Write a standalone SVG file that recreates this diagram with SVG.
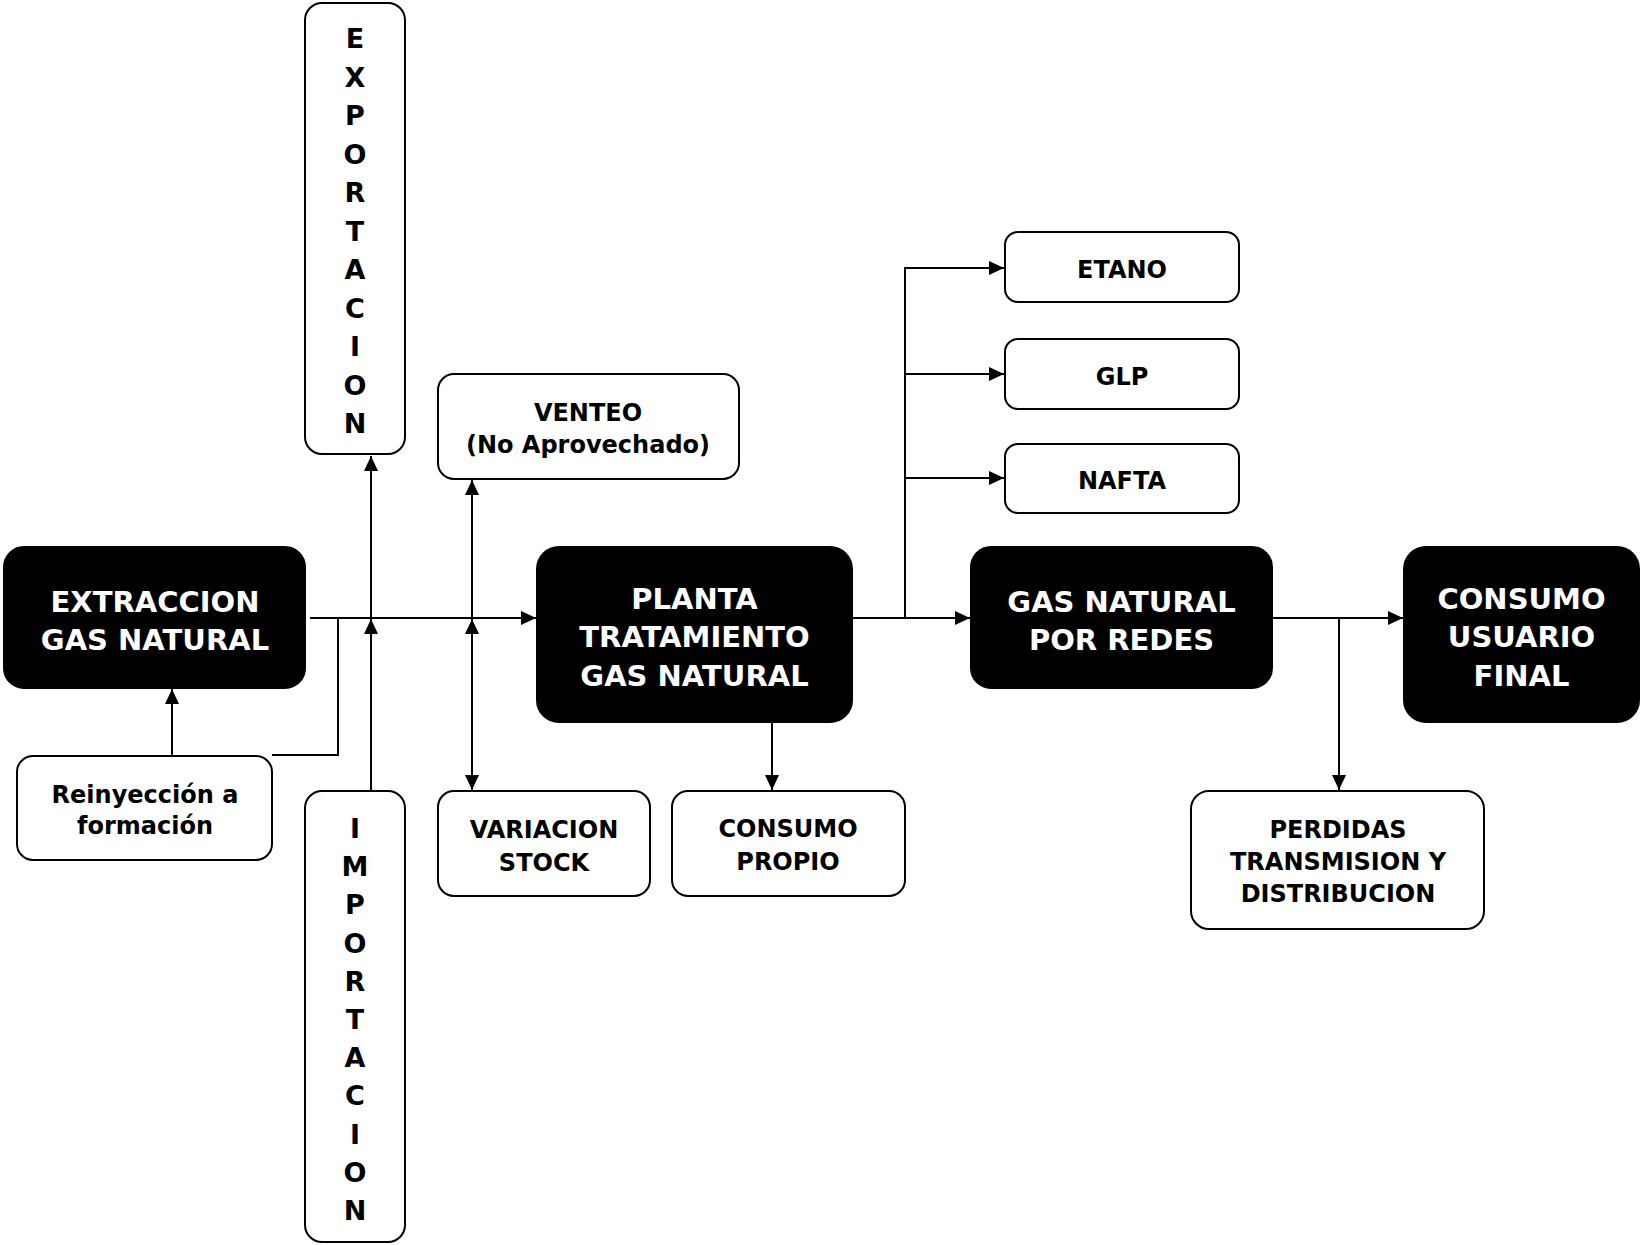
<svg xmlns="http://www.w3.org/2000/svg" width="1641" height="1245" viewBox="0 0 1641 1245">
<style>
.blk{fill:#000;stroke:#000;stroke-width:2}
.wht{fill:#fff;stroke:#000;stroke-width:2}
.tw{font-family:"DejaVu Sans",sans-serif;font-weight:bold;font-size:29px;fill:#fff;text-anchor:middle}
.tb{font-family:"DejaVu Sans",sans-serif;font-weight:bold;font-size:24px;fill:#000;text-anchor:middle}
.tv{font-family:"DejaVu Sans",sans-serif;font-weight:bold;font-size:27px;fill:#000;text-anchor:middle}
.c{fill:none;stroke:#000;stroke-width:2}
</style>
<defs>
<marker id="ah" markerUnits="userSpaceOnUse" markerWidth="15" markerHeight="14" refX="15" refY="7" orient="auto-start-reverse">
<path d="M0,0 L15,7 L0,14 z" fill="#000"/>
</marker>
</defs>
<g id="connectors">
<path class="c" d="M310,618 H536" marker-end="url(#ah)"/>
<path class="c" d="M371,791 V619" marker-end="url(#ah)"/>
<path class="c" d="M371,618 V456" marker-end="url(#ah)"/>
<path class="c" d="M472,618 V480" marker-end="url(#ah)"/>
<path class="c" d="M472,619 V790" marker-start="url(#ah)" marker-end="url(#ah)"/>
<path class="c" d="M172,756 V689" marker-end="url(#ah)"/>
<path class="c" d="M272,755 H338 V618"/>
<path class="c" d="M852,618 H970" marker-end="url(#ah)"/>
<path class="c" d="M905,617 V268 H1004" marker-end="url(#ah)"/>
<path class="c" d="M905,374 H1004" marker-end="url(#ah)"/>
<path class="c" d="M905,478 H1004" marker-end="url(#ah)"/>
<path class="c" d="M772,722 V790" marker-end="url(#ah)"/>
<path class="c" d="M1272,618 H1403" marker-end="url(#ah)"/>
<path class="c" d="M1339,618 V790" marker-end="url(#ah)"/>
</g>
<g id="extraccion">
<rect class="blk" x="4" y="547" width="301" height="141" rx="20"/>
<text class="tw" x="155" y="612">EXTRACCION</text>
<text class="tw" x="155" y="650">GAS NATURAL</text>
</g>
<g id="planta">
<rect class="blk" x="537" y="547" width="315" height="175" rx="22"/>
<text class="tw" x="694.5" y="609">PLANTA</text>
<text class="tw" x="694.5" y="647">TRATAMIENTO</text>
<text class="tw" x="694.5" y="686">GAS NATURAL</text>
</g>
<g id="redes">
<rect class="blk" x="971" y="547" width="301" height="141" rx="20"/>
<text class="tw" x="1121.5" y="612">GAS NATURAL</text>
<text class="tw" x="1121.5" y="650">POR REDES</text>
</g>
<g id="consumo-final">
<rect class="blk" x="1404" y="547" width="235" height="175" rx="22"/>
<text class="tw" x="1521.5" y="609">CONSUMO</text>
<text class="tw" x="1521.5" y="647">USUARIO</text>
<text class="tw" x="1521.5" y="686">FINAL</text>
</g>
<g id="exportacion">
<rect class="wht" x="305" y="3" width="100" height="451" rx="17"/>
<text class="tv" x="355" y="48">E</text>
<text class="tv" x="355" y="86.5">X</text>
<text class="tv" x="355" y="125">P</text>
<text class="tv" x="355" y="163.5">O</text>
<text class="tv" x="355" y="202">R</text>
<text class="tv" x="355" y="240.5">T</text>
<text class="tv" x="355" y="279">A</text>
<text class="tv" x="355" y="317.5">C</text>
<text class="tv" x="355" y="356">I</text>
<text class="tv" x="355" y="394.5">O</text>
<text class="tv" x="355" y="433">N</text>
</g>
<g id="importacion">
<rect class="wht" x="305" y="791" width="100" height="451" rx="17"/>
<text class="tv" x="355" y="838">I</text>
<text class="tv" x="355" y="876.2">M</text>
<text class="tv" x="355" y="914.4">P</text>
<text class="tv" x="355" y="952.6">O</text>
<text class="tv" x="355" y="990.8">R</text>
<text class="tv" x="355" y="1029">T</text>
<text class="tv" x="355" y="1067.2">A</text>
<text class="tv" x="355" y="1105.4">C</text>
<text class="tv" x="355" y="1143.6">I</text>
<text class="tv" x="355" y="1181.8">O</text>
<text class="tv" x="355" y="1220">N</text>
</g>
<g id="venteo">
<rect class="wht" x="438" y="374" width="301" height="105" rx="16"/>
<text class="tb" x="588" y="421">VENTEO</text>
<text class="tb" x="588" y="453">(No Aprovechado)</text>
</g>
<g id="variacion">
<rect class="wht" x="438" y="791" width="212" height="105" rx="16"/>
<text class="tb" x="544" y="838">VARIACION</text>
<text class="tb" x="544" y="871">STOCK</text>
</g>
<g id="consumo-propio">
<rect class="wht" x="672" y="791" width="233" height="105" rx="16"/>
<text class="tb" x="788" y="837">CONSUMO</text>
<text class="tb" x="788" y="870">PROPIO</text>
</g>
<g id="reinyeccion">
<rect class="wht" x="17" y="756" width="255" height="104" rx="16"/>
<text class="tb" x="145" y="803">Reinyección a</text>
<text class="tb" x="145" y="834">formación</text>
</g>
<g id="etano">
<rect class="wht" x="1005" y="232" width="234" height="70" rx="13"/>
<text class="tb" x="1122" y="278">ETANO</text>
</g>
<g id="glp">
<rect class="wht" x="1005" y="339" width="234" height="70" rx="13"/>
<text class="tb" x="1122" y="385">GLP</text>
</g>
<g id="nafta">
<rect class="wht" x="1005" y="444" width="234" height="69" rx="13"/>
<text class="tb" x="1122" y="489">NAFTA</text>
</g>
<g id="perdidas">
<rect class="wht" x="1191" y="791" width="293" height="138" rx="18"/>
<text class="tb" x="1338" y="838">PERDIDAS</text>
<text class="tb" x="1338" y="870">TRANSMISION Y</text>
<text class="tb" x="1338" y="902">DISTRIBUCION</text>
</g>
</svg>
